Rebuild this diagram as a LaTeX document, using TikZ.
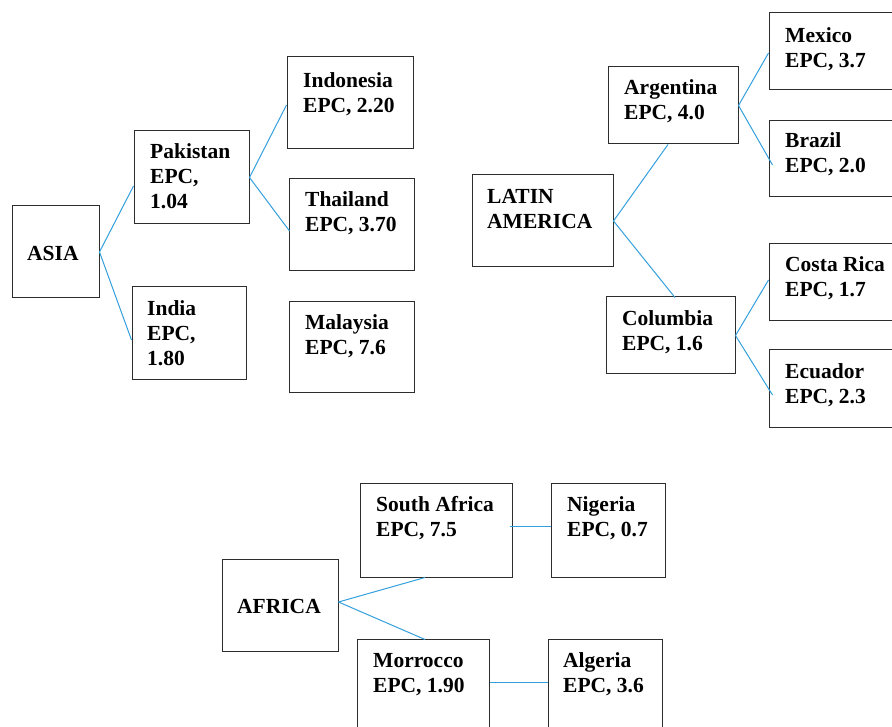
\documentclass[tikz,border=0pt]{standalone}
\usepackage{fontspec}
\setmainfont{Liberation Serif}
\definecolor{conn}{RGB}{52,160,222}
\definecolor{edge}{RGB}{45,45,45}
\tikzset{
  bx/.style={draw=edge, line width=1pt, rectangle, inner sep=0pt, fill=none},
  lbl/.style={anchor=north west, inner sep=0pt, align=left, text=black,
              font=\fontsize{21.5}{25}\selectfont\bfseries},
  cn/.style={draw=conn, line width=1pt},
}
\newcommand{\st}{\rule{0pt}{15pt}}
\begin{document}
\begin{tikzpicture}[x=1pt,y=-1pt]
\clip (0,0) rectangle (892,727);
\fill[white] (0,0) rectangle (892,727);
% boxes
\node[bx, minimum width=87pt, minimum height=92pt] (asia) at (55.5,252) {};
\node[bx, minimum width=115pt, minimum height=93pt] (pak) at (191.5,177.5) {};
\node[bx, minimum width=114pt, minimum height=93pt] (ind) at (189,333.5) {};
\node[bx, minimum width=126pt, minimum height=92pt] (indo) at (350,103) {};
\node[bx, minimum width=125pt, minimum height=92pt] (thai) at (351.5,225) {};
\node[bx, minimum width=125pt, minimum height=91pt] (mal) at (351.5,347.5) {};
\node[bx, minimum width=141pt, minimum height=92pt] (la) at (542.5,221) {};
\node[bx, minimum width=130pt, minimum height=77pt] (arg) at (673,105.5) {};
\node[bx, minimum width=129pt, minimum height=77pt] (col) at (670.5,335.5) {};
\node[bx, minimum width=126pt, minimum height=77pt] (mex) at (832,51.5) {};
\node[bx, minimum width=126pt, minimum height=76pt] (bra) at (832,159) {};
\node[bx, minimum width=126pt, minimum height=77pt] (cr) at (832,282.5) {};
\node[bx, minimum width=126pt, minimum height=77pt] (ecu) at (832,388.5) {};
\node[bx, minimum width=152pt, minimum height=94pt] (sa) at (436,530) {};
\node[bx, minimum width=114pt, minimum height=94pt] (nig) at (608,530) {};
\node[bx, minimum width=116pt, minimum height=92pt] (afr) at (280,605) {};
\node[bx, minimum width=132pt, minimum height=96pt] (mor) at (423,687) {};
\node[bx, minimum width=114pt, minimum height=96pt] (alg) at (605,687) {};
% labels
\node[lbl] (asiat) at (27,245) {\st ASIA};
\node[lbl] (pakt) at (150,143) {\st Pakistan\\EPC,\\1.04};
\node[lbl] (indt) at (147,300) {\st India\\EPC,\\1.80};
\node[lbl] (indot) at (303,72) {\st Indonesia\\EPC, 2.20};
\node[lbl] (thait) at (305,191) {\st Thailand\\EPC, 3.70};
\node[lbl] (malt) at (305,314) {\st Malaysia\\EPC, 7.6};
\node[lbl] (lat) at (487,188) {\st LATIN\\AMERICA};
\node[lbl] (argt) at (624,79) {\st Argentina\\EPC, 4.0};
\node[lbl] (colt) at (622,310) {\st Columbia\\EPC, 1.6};
\node[lbl] (mext) at (785,27) {\st Mexico\\EPC, 3.7};
\node[lbl] (brat) at (785,132) {\st Brazil\\EPC, 2.0};
\node[lbl] (crt) at (785,256) {\st Costa Rica\\EPC, 1.7};
\node[lbl] (ecut) at (785,363) {\st Ecuador\\EPC, 2.3};
\node[lbl] (sat) at (376,496) {\st South Africa\\EPC, 7.5};
\node[lbl] (nigt) at (567,496) {\st Nigeria\\EPC, 0.7};
\node[lbl] (afrt) at (237,598) {\st AFRICA};
\node[lbl] (mort) at (373,652) {\st Morrocco\\EPC, 1.90};
\node[lbl] (algt) at (563,652) {\st Algeria\\EPC, 3.6};
% connectors
\draw[cn] (asia.east) -- ([yshift=-8.5pt]pak.west);
\draw[cn] (asia.east) -- ([yshift=-6.5pt]ind.west);
\draw[cn] (pak.east) -- ([yshift=-2pt]indo.west);
\draw[cn] (pak.east) -- ([yshift=-6pt,xshift=1pt]thai.west);
\draw[cn] (la.east) -- ([xshift=-5pt]arg.south);
\draw[cn] (la.east) -- ([xshift=4.5pt,yshift=-1pt]col.north);
\draw[cn] (arg.east) -- ([yshift=-1.5pt]mex.west);
\draw[cn] (arg.east) -- ([yshift=-6pt,xshift=4pt]bra.west);
\draw[cn] (col.east) -- ([yshift=2.5pt]cr.west);
\draw[cn] (col.east) -- ([yshift=-6.5pt,xshift=4pt]ecu.west);
\draw[cn] ([yshift=3pt]afr.east) -- ([xshift=-11pt]sa.south);
\draw[cn] ([yshift=3pt]afr.east) -- ([xshift=2pt,yshift=-1pt]mor.north);
\draw[cn] ([yshift=3.5pt,xshift=-3pt]sa.east) -- ([yshift=3.5pt]nig.west);
\draw[cn] ([yshift=4.5pt]mor.east) -- ([yshift=4.5pt]alg.west);
\end{tikzpicture}
\end{document}
